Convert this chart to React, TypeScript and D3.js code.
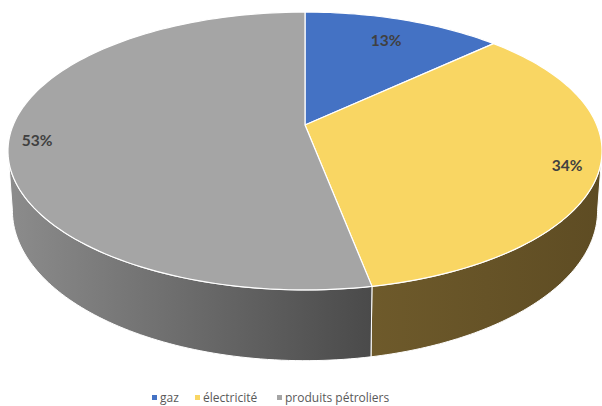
import React from "react";
import * as d3 from "d3";

const categories = ["gaz", "électricité", "produits pétroliers"];
const values = [13, 34, 53];
const labels = ["13%", "34%", "53%"];
const topColors = ["#4472C4", "#F9D663", "#A5A5A5"];
const sideDark = ["#2A4677", "#5E4C23", "#4A4A4A"];
const sideLight = ["#3A5C99", "#6E5A2B", "#8C8C8C"];

const W = 602, H = 406;
const cx = 305, cy = 125;
const p = 0.187;
const A = 291.8;
const B = 134.1;
const Hd = 57.5;
const bottomScale = 0.985;

function proj(angle: number, z: number): [number, number] {
  const u = Math.sin(angle);
  const w = -Math.cos(angle);
  const d = 1 - p * w;
  const sx = z === 0 ? 1 : bottomScale;
  return [cx + (A * u * sx) / d, cy + (B * w + Hd * z) / d];
}

export default function App() {
  const pie = d3.pie<number>().sort(null).value((d) => d)(values);
  const lineGen = d3.line<[number, number]>();

  const N = 120;
  const topPaths = pie.map((s) => {
    const pts: [number, number][] = [[cx, cy]];
    const n = Math.max(4, Math.ceil(((s.endAngle - s.startAngle) / (2 * Math.PI)) * N * 2));
    for (let i = 0; i <= n; i++) {
      const a = s.startAngle + ((s.endAngle - s.startAngle) * i) / n;
      pts.push(proj(a, 0));
    }
    return lineGen(pts) + "Z";
  });

  const wSil = p;
  const aMin = Math.acos(-wSil);
  const aMax = 2 * Math.PI - aMin;
  const sidePaths = pie.map((s) => {
    const a0 = Math.max(s.startAngle, aMin);
    const a1 = Math.min(s.endAngle, aMax);
    if (a1 <= a0) return null;
    const n = 80;
    const top: [number, number][] = [];
    const bot: [number, number][] = [];
    for (let i = 0; i <= n; i++) {
      const a = a0 + ((a1 - a0) * i) / n;
      top.push(proj(a, 0));
      bot.push(proj(a, 1));
    }
    const pts = top.concat(bot.reverse());
    const xs = pts.map((q) => q[0]);
    return { d: lineGen(pts) + "Z", x0: d3.min(xs)!, x1: d3.max(xs)! };
  });

  const labelPos: [number, number][] = [
    [386, 46],
    [567, 171],
    [37, 146],
  ];

  const legendX = [152, 195, 277];

  return (
    <svg width={W} height={H} style={{ position: "absolute", left: 0, top: 0, background: "#fff" }}>
      <defs>
        {sidePaths.map((sp, i) =>
          sp ? (
            <linearGradient key={i} id={`sg${i}`} gradientUnits="userSpaceOnUse" x1={sp.x0} x2={sp.x1} y1={0} y2={0}>
              <stop offset="0%" stopColor={sideLight[i]} />
              <stop offset="100%" stopColor={sideDark[i]} />
            </linearGradient>
          ) : null
        )}
      </defs>
      {sidePaths.map((sp, i) =>
        sp ? <path key={i} d={sp.d} fill={`url(#sg${i})`} stroke="#fff" strokeWidth={1} strokeLinejoin="round" /> : null
      )}
      {topPaths.map((d, i) => (
        <path key={i} d={d} fill={topColors[i]} stroke="#fff" strokeWidth={1.2} strokeLinejoin="round" />
      ))}
      {labels.map((l, i) => (
        <text
          key={i}
          x={labelPos[i][0]}
          y={labelPos[i][1]}
          textAnchor="middle"
          fontFamily="Lato, 'Open Sans', sans-serif"
          fontWeight={700}
          fontSize={15.5}
          fill="#404040"
        >
          {l}
        </text>
      ))}
      {categories.map((c, i) => (
        <g key={c}>
          <rect x={legendX[i]} y={395} width={5} height={5} fill={topColors[i]} />
          <text x={legendX[i] + 8} y={402} fontFamily="'Open Sans', Lato, sans-serif" fontSize={12} fill="#595959">
            {c}
          </text>
        </g>
      ))}
    </svg>
  );
}
